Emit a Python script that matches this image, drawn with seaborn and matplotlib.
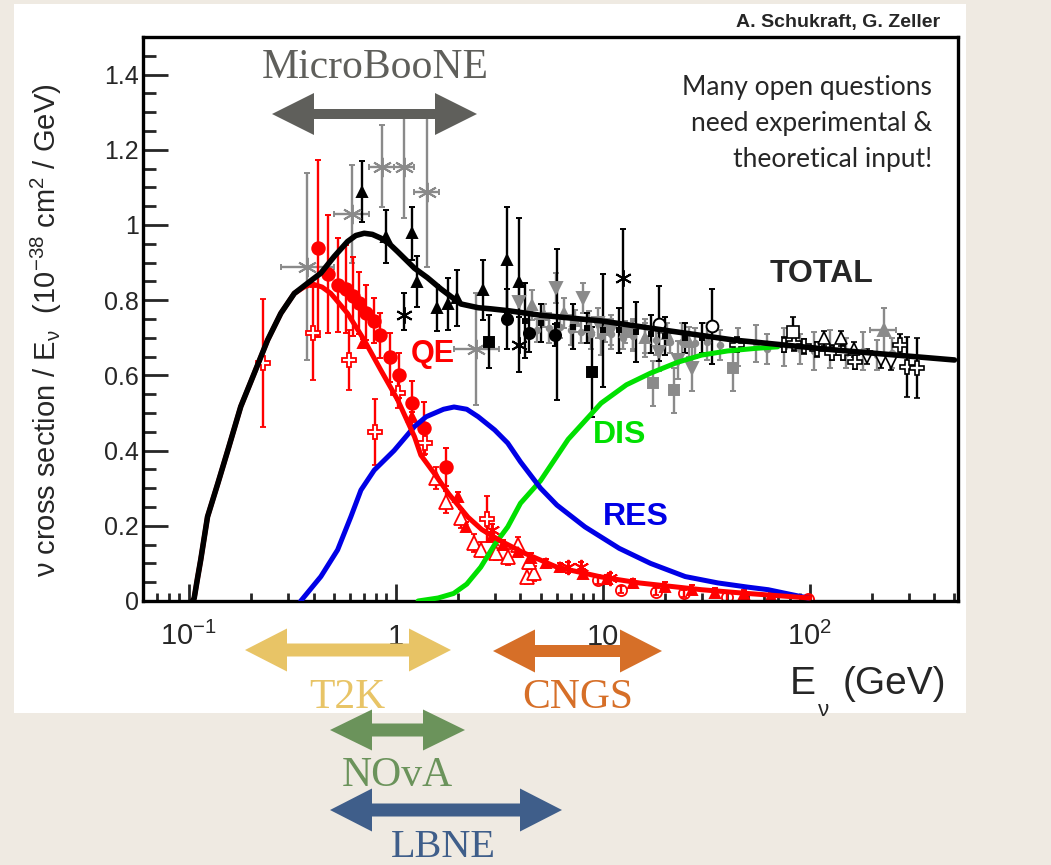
import numpy as np
import matplotlib
matplotlib.use('Agg')
import matplotlib.pyplot as plt
import seaborn as sns
from matplotlib.patches import Polygon, Rectangle
from matplotlib.ticker import FixedLocator, NullFormatter
import matplotlib.transforms as mtransforms

sns.set_style('ticks')
plt.rcParams['font.family'] = ['Liberation Sans', 'DejaVu Sans']
plt.rcParams['mathtext.fontset'] = 'custom'
plt.rcParams['mathtext.rm'] = 'Liberation Sans'
plt.rcParams['mathtext.it'] = 'Liberation Sans:italic'
plt.rcParams['mathtext.default'] = 'regular'

# ---- theory curves (E in GeV, sigma/E in 1e-38 cm^2/GeV) ----
total_E = [0.104, 0.106, 0.110, 0.114, 0.123, 0.138, 0.154, 0.178, 0.207, 0.24, 0.278, 0.323, 0.374,
           0.434, 0.503, 0.584, 0.64, 0.703, 0.77, 0.846, 0.93, 1.02, 1.23, 1.42, 1.65, 2.06, 2.5, 2.88,
           3.5, 5.0, 9.8, 20, 43, 130, 500]
total_y = [0.0, 0.007, 0.06, 0.109, 0.224, 0.313, 0.40, 0.517, 0.606, 0.694, 0.765, 0.818, 0.845,
           0.872, 0.916, 0.956, 0.972, 0.978, 0.975, 0.965, 0.95, 0.929, 0.885, 0.86, 0.83, 0.79, 0.78, 0.777,
           0.772, 0.76, 0.745, 0.72, 0.694, 0.668, 0.641]

qe_E = [0.106, 0.110, 0.114, 0.123, 0.138, 0.154, 0.178, 0.207, 0.24, 0.278, 0.323, 0.36, 0.396, 0.44,
        0.485, 0.584, 0.703, 0.846, 1.02, 1.23, 1.32, 1.53, 1.8, 2.23, 2.6, 3.2, 4.15, 6.0, 9.8,
        15, 30, 50, 100]
qe_y = [0.0, 0.007, 0.06, 0.109, 0.224, 0.313, 0.40, 0.517, 0.606, 0.694, 0.765, 0.818, 0.835, 0.843, 0.835,
        0.818, 0.765, 0.694, 0.614, 0.535, 0.437, 0.388, 0.34, 0.285, 0.223, 0.19, 0.16, 0.128, 0.09, 0.064,
        0.048, 0.03, 0.02, 0.008][:1] + [0.007, 0.06, 0.109, 0.224, 0.313, 0.40, 0.517, 0.606, 0.694, 0.765,
        0.818, 0.835, 0.843, 0.835, 0.818, 0.765, 0.694, 0.614, 0.535, 0.437, 0.388, 0.34, 0.285, 0.223,
        0.19, 0.16, 0.128, 0.09, 0.064, 0.048, 0.03, 0.02, 0.008]
qe_E = [0.104] + qe_E  # starts at the same point as the total

res_E = [0.347, 0.434, 0.523, 0.606, 0.678, 0.786, 0.98, 1.23, 1.4, 1.7, 1.91, 2.2, 2.5, 3.0, 3.47, 4.0,
         5.0, 6.0, 8.2, 12, 17, 25, 36, 50, 63, 80, 98]
res_y = [0.0, 0.065, 0.136, 0.224, 0.295, 0.348, 0.40, 0.464, 0.49, 0.51, 0.516, 0.51, 0.49, 0.455, 0.42, 0.37,
         0.30, 0.255, 0.197, 0.14, 0.10, 0.065, 0.048, 0.037, 0.03, 0.018, 0.008]

dis_E = [1.28, 1.6, 1.9, 2.2, 2.57, 3.0, 3.47, 4.0, 5.0, 6.8, 9.8, 13, 17, 23, 30, 40, 55, 70]
dis_y = [0.0, 0.008, 0.02, 0.045, 0.09, 0.15, 0.197, 0.26, 0.32, 0.43, 0.526, 0.575, 0.606, 0.635, 0.654,
         0.665, 0.672, 0.676]

# ---- measurements ----
# QE, filled red circles
qe_circ_E = [0.419, 0.471, 0.523, 0.573, 0.62, 0.665, 0.716, 0.78, 0.837, 0.94, 1.03, 1.195, 1.37, 1.74]
qe_circ_y = [0.938, 0.87, 0.84, 0.83, 0.81, 0.793, 0.767, 0.745, 0.707, 0.648, 0.60, 0.526, 0.459, 0.356]
qe_circ_err = [0.235, 0.157, 0.125, 0.117, 0.106, 0.083, 0.073, 0.06, 0.06, 0.065, 0.06, 0.06, 0.07, 0.05]
# QE, open red crosses
qe_cross_E = [0.227, 0.396, 0.595, 0.795, 1.02, 1.38, 2.75]
qe_cross_y = [0.632, 0.712, 0.641, 0.45, 0.552, 0.42, 0.218]
qe_cross_err = [0.17, 0.124, 0.08, 0.087, 0.04, 0.03, 0.06]
# QE, open red triangles
qe_otri_E = [1.56, 1.74, 2.06, 2.38, 2.57, 3.04, 3.47, 3.88, 4.3, 4.64, 4.4]
qe_otri_y = [0.327, 0.263, 0.22, 0.154, 0.136, 0.128, 0.117, 0.149, 0.064, 0.074, 0.104]
qe_otri_err = [0.03, 0.03, 0.025, 0.025, 0.02, 0.02, 0.02, 0.02, 0.02, 0.02, 0.02]
# QE, small filled red triangles
qe_tri_E = [0.69, 1.19, 1.99, 2.18, 2.9, 3.3, 3.9, 4.5, 5.3, 6.2, 8.0, 10.5, 14, 20, 27, 35, 48, 65]
qe_tri_y = [0.685, 0.49, 0.277, 0.197, 0.17, 0.15, 0.13, 0.115, 0.10, 0.09, 0.072, 0.058, 0.047, 0.038,
            0.03, 0.022, 0.018, 0.012]
# QE, red asterisks and open circles
qe_star_E = [2.9, 6.8, 7.8, 10.8]
qe_star_y = [0.19, 0.09, 0.09, 0.06]
qe_ocirc_E = [9.5, 12.2, 18, 24.6, 40, 98]
qe_ocirc_y = [0.055, 0.03, 0.025, 0.02, 0.011, 0.005]

# TOTAL, black filled triangles
tot_tri_E = [0.685, 0.895, 1.19, 1.27, 1.58, 1.79, 1.97, 2.65, 3.46, 3.94]
tot_tri_y = [1.089, 0.969, 0.978, 0.849, 0.779, 0.79, 0.806, 0.827, 0.907, 0.849]
tot_tri_err = [0.08, 0.07, 0.07, 0.068, 0.062, 0.07, 0.075, 0.08, 0.14, 0.17]
# black filled circles / squares
tot_circ_E = [3.46, 4.4, 5.88]
tot_circ_y = [0.75, 0.712, 0.707]
tot_circ_err = [0.08, 0.05, 0.03]
tot_sq_E = [2.81, 8.9]
tot_sq_y = [0.69, 0.61]
tot_sq_err = [0.07, 0.12]
# black asterisks
tot_star_E = [1.1, 3.94, 12.45]
tot_star_y = [0.76, 0.681, 0.858]
tot_star_lo = [0.72, 0.61, 0.74]
tot_star_hi = [0.818, 0.756, 0.99]
# small black points with bars along the curve
tot_small_E = [4.2, 5.0, 6.0, 7.2, 8.4, 10, 12, 14.5, 17, 20, 25, 30]
tot_small_y = [0.745, 0.74, 0.735, 0.73, 0.725, 0.72, 0.72, 0.715, 0.71, 0.705, 0.70, 0.70]
tot_small_err = [0.1, 0.05, 0.2, 0.06, 0.04, 0.15, 0.06, 0.08, 0.05, 0.05, 0.04, 0.04]
# black open circles
tot_ocirc_E = [18.7, 33.6]
tot_ocirc_y = [0.738, 0.731]
tot_ocirc_err = [0.1, 0.1]
# open crosses (high energy)
tot_ocross_E = [44.6, 74.8, 84, 94, 108, 128, 144, 165, 274, 296, 330]
tot_ocross_y = [0.681, 0.681, 0.686, 0.678, 0.67, 0.66, 0.66, 0.636, 0.68, 0.623, 0.62]
tot_ocross_err = [0.02, 0.02, 0.02, 0.02, 0.02, 0.02, 0.02, 0.02, 0.03, 0.08, 0.08]
# open triangles / square
tot_otri_E = [117, 141, 164]
tot_otri_y = [0.699, 0.699, 0.67]
tot_otrid_E = [189, 222, 246]
tot_otrid_y = [0.65, 0.64, 0.635]
tot_osq_E = [82.5]
tot_osq_y = [0.716]

# grey data
g_star_E = [0.374, 0.613, 0.853, 1.097, 1.41, 2.43]
g_star_y = [0.889, 1.028, 1.155, 1.155, 1.089, 0.669]
g_star_xlo = [0.278, 0.50, 0.74, 0.98, 1.22, 1.9]
g_star_xhi = [0.50, 0.74, 0.98, 1.22, 1.62, 3.15]
g_star_ylo = [0.641, 0.899, 1.049, 1.019, 0.889, 0.52]
g_star_yhi = [1.137, 1.16, 1.266, 1.285, 1.285, 0.82]

g_trid_E = [3.93, 5.93, 7.98, 9.5, 11, 14, 18.7, 23, 27.1]
g_trid_y = [0.796, 0.832, 0.806, 0.74, 0.72, 0.71, 0.663, 0.641, 0.619]
g_trid_err = [0.04, 0.04, 0.04, 0.04, 0.04, 0.04, 0.05, 0.05, 0.06]

g_tri_E = [4.57, 5.2, 6.5, 7.3, 8.6, 10.2, 12.8, 16, 20.5, 26]
g_tri_y = [0.787, 0.76, 0.765, 0.745, 0.73, 0.72, 0.715, 0.70, 0.71, 0.69]
g_tri_err = [0.04, 0.03, 0.04, 0.03, 0.04, 0.03, 0.03, 0.04, 0.03, 0.04]

g_sq_E = [17.4, 22.1, 42.4]
g_sq_y = [0.579, 0.561, 0.619]
g_sq_err = [0.06, 0.06, 0.06]

g_small_E = [4.8, 5.5, 6.2, 7.0, 7.8, 8.8, 9.8, 11, 12.5, 14, 16, 18, 21, 24, 28, 32, 37, 45, 55,
             62, 75, 90, 105, 125, 150, 180, 210, 250]
g_small_y = [0.72, 0.725, 0.73, 0.72, 0.715, 0.71, 0.705, 0.71, 0.70, 0.705, 0.70, 0.695, 0.69, 0.69,
             0.685, 0.69, 0.68, 0.675, 0.685, 0.67, 0.675, 0.67, 0.665, 0.67, 0.66, 0.665, 0.655, 0.66]
g_small_err = [0.03, 0.04, 0.03, 0.04, 0.03, 0.04, 0.05, 0.04, 0.03, 0.04, 0.05, 0.04, 0.03, 0.05,
               0.04, 0.05, 0.04, 0.05, 0.05, 0.04, 0.05, 0.04, 0.05, 0.05, 0.04, 0.05, 0.04, 0.04]

g_big_E = [229]
g_big_y = [0.72]
g_big_xlo = [195]
g_big_xhi = [262]
g_big_err = [0.06]

# ---- layout ----
W, H = 1051, 865
fx = lambda px: px / W
fy = lambda py: 1 - py / H

fig = plt.figure(figsize=(W / 100, H / 100), dpi=100)
fig.patch.set_facecolor('#efeae2')
fig.patches.append(Rectangle((fx(14), fy(713)), (966 - 14) / W, (713 - 4) / H,
                             transform=fig.transFigure, facecolor='white', edgecolor='none', zorder=-1))

ax = fig.add_axes([fx(143), fy(601), (958 - 143) / W, (601 - 37) / H])
ax.set_facecolor('white')
ax.set_xscale('log')


def pts(E, y, yerr, marker, color, mfc=None, ms=7, xerr=None, z=2, mew=1.4):
    ax.errorbar(E, y, yerr=yerr, xerr=xerr, marker=marker, ls='none', color=color, ecolor=color,
                mfc=mfc if mfc is not None else color, mec=color, ms=ms, mew=mew,
                elinewidth=1.7, capsize=2.5, capthick=1.7, zorder=z)


def asym(y, lo, hi):
    y = np.array(y)
    return [y - np.array(lo), np.array(hi) - y]


AST = (6, 2, 0)
RED, GREY = '#ff0000', '#8a8a8a'

# grey sets
pts(g_small_E, g_small_y, g_small_err, 'o', GREY, ms=4)
pts(g_star_E, g_star_y, asym(g_star_y, g_star_ylo, g_star_yhi), AST, GREY, ms=14,
    xerr=asym(g_star_E, g_star_xlo, g_star_xhi))
pts(g_trid_E, g_trid_y, g_trid_err, 'v', GREY, ms=8)
pts(g_tri_E, g_tri_y, g_tri_err, '^', GREY, ms=7)
pts(g_sq_E, g_sq_y, g_sq_err, 's', GREY, ms=7.5)
pts(g_big_E, g_big_y, g_big_err, '^', GREY, ms=8, xerr=asym(g_big_E, g_big_xlo, g_big_xhi))

# black sets
pts(tot_small_E, tot_small_y, tot_small_err, 's', 'black', ms=3)
pts(tot_tri_E, tot_tri_y, tot_tri_err, '^', 'black', ms=7.5)
pts(tot_circ_E, tot_circ_y, tot_circ_err, 'o', 'black', ms=8)
pts(tot_sq_E, tot_sq_y, tot_sq_err, 's', 'black', ms=7)
pts(tot_star_E, tot_star_y, asym(tot_star_y, tot_star_lo, tot_star_hi), AST, 'black', ms=12)
pts(tot_ocirc_E, tot_ocirc_y, tot_ocirc_err, 'o', 'black', mfc='white', ms=8.5)
pts(tot_ocross_E, tot_ocross_y, tot_ocross_err, 'P', 'black', mfc='white', ms=10, mew=1.2)
pts(tot_otri_E, tot_otri_y, 0.02, '^', 'black', mfc='white', ms=9, mew=1.2)
pts(tot_otrid_E, tot_otrid_y, 0.02, 'v', 'black', mfc='white', ms=9, mew=1.2)
pts(tot_osq_E, tot_osq_y, 0.04, 's', 'black', mfc='white', ms=8, mew=1.2)

# red sets
pts(qe_circ_E, qe_circ_y, qe_circ_err, 'o', RED, ms=9)
pts(qe_cross_E, qe_cross_y, qe_cross_err, 'P', RED, mfc='white', ms=10.5, mew=1.3)
pts(qe_otri_E, qe_otri_y, qe_otri_err, '^', RED, mfc='white', ms=9.5, mew=1.3)
pts(qe_tri_E, qe_tri_y, 0.012, '^', RED, ms=6.5)
pts(qe_star_E, qe_star_y, 0.015, AST, RED, ms=11)
pts(qe_ocirc_E, qe_ocirc_y, 0.01, 'o', RED, mfc='none', ms=8, mew=1.3)

# curves
sns.lineplot(x=dis_E, y=dis_y, ax=ax, color='#00e000', lw=3.6, zorder=4)
sns.lineplot(x=res_E, y=res_y, ax=ax, color='#0000e6', lw=3.6, zorder=4)
sns.lineplot(x=qe_E, y=qe_y, ax=ax, color=RED, lw=3.6, zorder=4)
sns.lineplot(x=total_E, y=total_y, ax=ax, color='black', lw=4.0, zorder=5)

ax.set_xlim(0.06, 520)
ax.set_ylim(0, 1.5)

# ticks (ROOT style, inside)
ax.xaxis.set_major_locator(FixedLocator([0.1, 1, 10, 100]))
minors = [k * 10.0 ** d for d in range(-2, 3) for k in range(2, 10)]
ax.xaxis.set_minor_locator(FixedLocator([m for m in minors if 0.06 <= m <= 520]))
ax.xaxis.set_major_formatter(NullFormatter())
ax.xaxis.set_minor_formatter(NullFormatter())
ax.set_yticks([0, 0.2, 0.4, 0.6, 0.8, 1.0, 1.2, 1.4])
ax.set_yticklabels(['0', '0.2', '0.4', '0.6', '0.8', '1', '1.2', '1.4'], fontsize=18)
ax.yaxis.set_minor_locator(FixedLocator(np.arange(0, 1.5, 0.05)))
ax.tick_params(axis='x', which='major', direction='in', length=12, width=2, top=False)
ax.tick_params(axis='x', which='minor', direction='in', length=6, width=2, top=False)
ax.tick_params(axis='y', which='major', direction='in', length=18, width=2, right=False, pad=3)
ax.tick_params(axis='y', which='minor', direction='in', length=9, width=2, right=False)
for s in ax.spines.values():
    s.set_linewidth(2.4)
    s.set_color('black')
ax.set_xlabel('')
ax.set_ylabel('')

# x tick labels
trans = mtransforms.blended_transform_factory(ax.transData, ax.transAxes)
xlab_y = -(645 - 601) / (601 - 37)
for v, lab in zip([0.1, 1, 10, 100], ['$10^{-1}$', '1', '10', '$10^{2}$']):
    ax.text(v, xlab_y, lab, transform=trans, ha='center', va='baseline', fontsize=21)

# axis titles
fig.text(fx(790), fy(694), 'E', fontsize=28, ha='left', va='baseline')
fig.text(fx(818), fy(716), 'ν', fontsize=16, ha='left', va='baseline')
fig.text(fx(843), fy(694), '(GeV)', fontsize=28, ha='left', va='baseline')
fig.text(fx(46), fy(330), r'$\nu$ cross section / E$_{\nu}$  (10$^{-38}$ cm$^{2}$ / GeV)',
         rotation=90, fontsize=21, ha='center', va='center')

# labels in the plot
fig.text(fx(940), fy(27), 'A. Schukraft, G. Zeller', fontsize=14, fontweight='bold', ha='right', va='baseline')
for txt, yy in zip(['Many open questions', 'need experimental &', 'theoretical input!'], [95, 131, 167]):
    fig.text(fx(932), fy(yy), txt, fontsize=19, family=['Lato', 'DejaVu Sans'], ha='right', va='baseline')
fig.text(fx(770), fy(282), 'TOTAL', fontsize=23, fontweight='bold', ha='left', va='baseline')
fig.text(fx(411), fy(362), 'QE', fontsize=22, fontweight='bold', color=RED, ha='left', va='baseline')
fig.text(fx(593), fy(443), 'DIS', fontsize=23, fontweight='bold', color='#00e000', ha='left', va='baseline')
fig.text(fx(603), fy(525), 'RES', fontsize=23, fontweight='bold', color='#0000e6', ha='left', va='baseline')


# experiment arrows
def darrow(x0, x1, yc, shaft, head_h, head_l, color):
    p = [(x0, yc), (x0 + head_l, yc - head_h / 2), (x0 + head_l, yc - shaft / 2),
         (x1 - head_l, yc - shaft / 2), (x1 - head_l, yc - head_h / 2), (x1, yc),
         (x1 - head_l, yc + head_h / 2), (x1 - head_l, yc + shaft / 2),
         (x0 + head_l, yc + shaft / 2), (x0 + head_l, yc + head_h / 2)]
    fig.patches.append(Polygon([(fx(a), fy(b)) for a, b in p], closed=True, transform=fig.transFigure,
                               facecolor=color, edgecolor='none', zorder=6))


serif = ['Liberation Serif', 'DejaVu Serif']
exps = [('MicroBooNE', 272, 477, 114, 10, 42, '#5f5f5b', 375, 78, 30),
        ('T2K', 245, 451, 650, 13, 43, '#e8c466', 347, 708, 30),
        ('CNGS', 493, 662, 651, 12, 43, '#d66f28', 578, 708, 30),
        ('NOvA', 330, 465, 730, 13, 41, '#6b935b', 397, 786, 30),
        ('LBNE', 330, 562, 810, 13, 43, '#3f5e8a', 443, 857, 29)]
for name, x0, x1, yc, sh, hh, col, tx, ty, fs in exps:
    darrow(x0, x1, yc, sh, hh, 42, col)
    fig.text(fx(tx), fy(ty), name, fontsize=fs, family=serif, color=col, ha='center', va='baseline')

fig.savefig('out.png', dpi=100, facecolor=fig.get_facecolor())
